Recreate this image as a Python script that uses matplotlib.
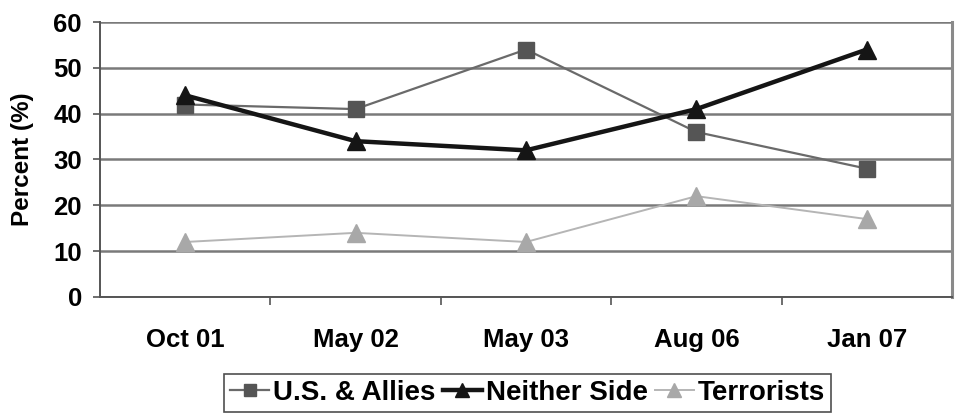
import matplotlib.pyplot as plt

plt.rcParams["font.family"] = ["Liberation Sans", "DejaVu Sans"]
plt.rcParams["font.weight"] = "bold"

periodos = ["Oct 01", "May 02", "May 03", "Aug 06", "Jan 07"]
us_aliados = [42, 41, 54, 36, 28]
nenhum_lado = [44, 34, 32, 41, 54]
terroristas = [12, 14, 12, 22, 17]
ticks_y = [0, 10, 20, 30, 40, 50, 60]

fig = plt.figure(figsize=(9.56, 4.2), dpi=100)
ax = fig.add_axes([0.1046, 0.2929, 0.8912, 0.6547])

x = list(range(len(periodos)))
ax.plot(x, us_aliados, color="#6a6a6a", lw=1.6, marker="s", ms=11,
        mfc="#555555", mec="#555555", label="U.S. & Allies", zorder=3)
ax.plot(x, nenhum_lado, color="#151515", lw=3.2, marker="^", ms=13,
        mfc="#151515", mec="#151515", label="Neither Side", zorder=4)
ax.plot(x, terroristas, color="#b5b5b5", lw=1.4, marker="^", ms=13,
        mfc="#a8a8a8", mec="#a8a8a8", label="Terrorists", zorder=2)

ax.set_xlim(-0.5, len(periodos) - 0.5)
ax.set_ylim(0, 60)
ax.set_yticks(ticks_y)
ax.set_xticks(x)
ax.set_xticklabels(periodos)
ax.set_xticks([i + 0.5 for i in range(len(periodos) - 1)], minor=True)
ax.tick_params(axis="x", which="major", length=0, pad=22, labelsize=18.5)
ax.tick_params(axis="x", which="minor", length=6, width=1.2, color="#555555")
ax.tick_params(axis="y", length=5, width=1.2, color="#555555", labelsize=18.5, pad=8)

ax.yaxis.grid(True, color="#7a7a7a", lw=1.8)
ax.set_axisbelow(True)
ax.spines["top"].set_visible(False)
ax.spines["left"].set_color("#555555")
ax.spines["left"].set_linewidth(1.4)
ax.spines["bottom"].set_color("#555555")
ax.spines["bottom"].set_linewidth(1.4)
ax.spines["right"].set_color("#8a8a8a")
ax.spines["right"].set_linewidth(2.2)

ax.set_ylabel("Percent (%)", fontsize=17.5, fontweight="bold")
ax.yaxis.set_label_coords(-0.077, 0.5)

leg = ax.legend(loc="upper center", bbox_to_anchor=(0.502, -0.28), ncol=3,
                fontsize=20, frameon=True, fancybox=False, handlelength=1.4,
                handletextpad=0.15, columnspacing=0.25, borderpad=0.22,
                borderaxespad=0, markerscale=0.8)
leg.get_frame().set_edgecolor("#222222")
leg.get_frame().set_linewidth(1.2)

fig.savefig("out.png", dpi=100)
